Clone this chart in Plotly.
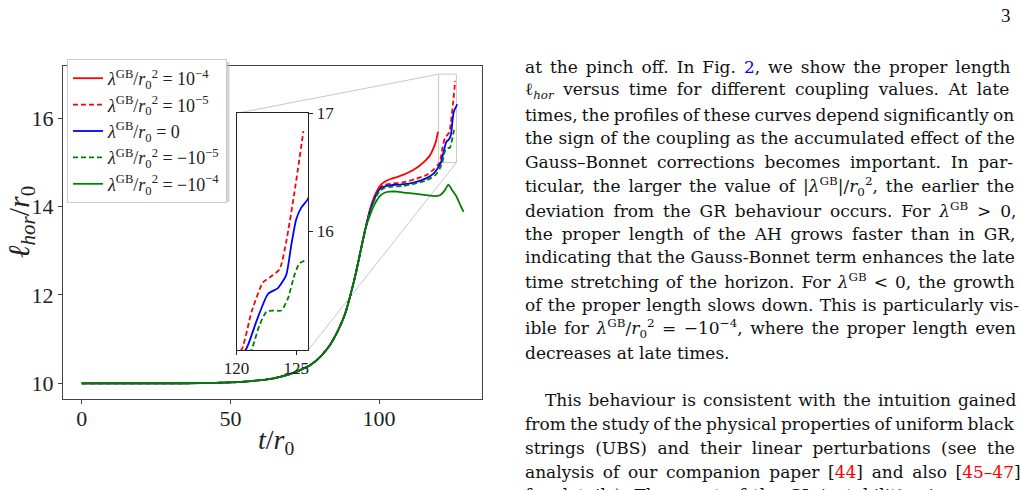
import plotly.graph_objects as go

W, H = 1021, 490

# ---------------- data ----------------
t_base = [0, 10, 20, 30, 40, 50, 55, 60, 65, 70, 73.4, 76.8, 80.2, 83.5, 86.3, 88.6, 90.2, 91.9, 93.6, 95.3]
y_base = [10.0, 10.0, 10.0, 10.0, 10.005, 10.02, 10.04, 10.07, 10.12, 10.21, 10.30, 10.41, 10.60, 10.87, 11.21, 11.58, 11.96, 12.41, 12.94, 13.47]

t_gr = [97.0, 98.7, 100.4, 102.0, 104.0, 107.0, 111.3, 115.8, 118.5, 119.8, 120.84, 121.67, 122.63, 123.46, 124.15, 124.57, 124.98, 125.4, 125.94, 126.2]
y_gr = [13.92, 14.22, 14.41, 14.46, 14.49, 14.50, 14.54, 14.64, 14.76, 14.88, 15.01, 15.24, 15.47, 15.52, 15.63, 15.88, 16.10, 16.20, 16.27, 16.32]

t_p5 = [97.0, 98.7, 100.4, 102.0, 104.0, 108.0, 112.0, 116.0, 118.5, 119.8, 120.43, 121.26, 122.22, 122.77, 123.6, 124.15, 124.84, 125.59]
y_p5 = [13.93, 14.24, 14.44, 14.50, 14.52, 14.55, 14.62, 14.72, 14.85, 14.95, 15.00, 15.32, 15.57, 15.61, 15.68, 15.91, 16.33, 16.85]

t_p4 = [97.0, 98.7, 100.4, 102.0, 103.7, 106.0, 108.0, 110.0, 112.4, 114.0, 115.8, 117.0, 118.0, 119.0, 119.8]
y_p4 = [13.95, 14.28, 14.48, 14.57, 14.62, 14.67, 14.72, 14.78, 14.87, 14.95, 15.06, 15.15, 15.28, 15.45, 15.70]

t_m5 = [97.0, 98.7, 100.4, 102.0, 104.0, 108.0, 112.0, 116.0, 119.0, 120.3, 121.26, 121.9, 122.5, 123.05, 123.74, 124.29, 124.84, 125.26, 125.67]
y_m5 = [13.90, 14.19, 14.37, 14.43, 14.45, 14.47, 14.52, 14.60, 14.72, 14.85, 15.00, 15.20, 15.32, 15.33, 15.33, 15.43, 15.63, 15.73, 15.75]

t_m4 = [97.0, 98.7, 100.4, 102.0, 103.7, 106.0, 108.2, 113.8, 118.3, 120.5, 122.2, 123.3, 124.5, 126.1, 127.2, 128.4]
y_m4 = [13.82, 14.08, 14.25, 14.32, 14.34, 14.34, 14.32, 14.28, 14.24, 14.26, 14.38, 14.50, 14.38, 14.22, 14.05, 13.88]

labels = [
    "<i>λ</i><sup>GB</sup>/<i>r</i><sub>0</sub><sup>2</sup> = 10<sup>−4</sup>",
    "<i>λ</i><sup>GB</sup>/<i>r</i><sub>0</sub><sup>2</sup> = 10<sup>−5</sup>",
    "<i>λ</i><sup>GB</sup>/<i>r</i><sub>0</sub> = 0",
    "<i>λ</i><sup>GB</sup>/<i>r</i><sub>0</sub><sup>2</sup> = −10<sup>−5</sup>",
    "<i>λ</i><sup>GB</sup>/<i>r</i><sub>0</sub><sup>2</sup> = −10<sup>−4</sup>",
]
series = [(t_p4, y_p4), (t_p5, y_p5), (t_gr, y_gr), (t_m5, y_m5), (t_m4, y_m4)]
colors = ["#ff0000", "#ff0000", "#0000ff", "#008000", "#008000"]
dashes = ["solid", "5px,3px", "solid", "5px,3px", "solid"]

main_xticks = [0, 50, 100]
main_yticks = [10, 12, 14, 16]
inset_xticks = [120, 125]
inset_yticks = [16, 17]

page_lines = [
    "at the pinch off. In Fig. <span style='color:#0000ff'>2</span>, we show the proper length",
    "ℓ<sub><i>hor</i></sub> versus time for different coupling values. At late",
    "times, the profiles of these curves depend significantly on",
    "the sign of the coupling as the accumulated effect of the",
    "Gauss–Bonnet corrections becomes important. In par-",
    "ticular, the larger the value of |<i>λ</i><sup>GB</sup>|/<i>r</i><sub>0</sub><sup>2</sup>, the earlier the",
    "deviation from the GR behaviour occurs. For <i>λ</i><sup>GB</sup> &gt; 0,",
    "the proper length of the AH grows faster than in GR,",
    "indicating that the Gauss-Bonnet term enhances the late",
    "time stretching of the horizon. For <i>λ</i><sup>GB</sup> &lt; 0, the growth",
    "of the proper length slows down. This is particularly vis-",
    "ible for <i>λ</i><sup>GB</sup>/<i>r</i><sub>0</sub><sup>2</sup> = −10<sup>−4</sup>, where the proper length even",
    "decreases at late times.",
    "",
    "This behaviour is consistent with the intuition gained",
    "from the study of the physical properties of uniform black",
    "strings (UBS) and their linear perturbations (see the",
    "analysis of our companion paper [<span style='color:#ff0000'>44</span>] and also [<span style='color:#ff0000'>45–47</span>]",
    "for details). The onset of the GL instabilities is con-",
]
# word spacing (px) used to justify each line, and left indent (px)
line_wordspacing = [2.6, 4.1, -1.2, 0.3, 4.4, 2.4, 3.4, 3.4, 0.1, 1.6, 0.8, 2.1, 0, 0, 1.6, -1.2, 5.1, 3.3, 2.2]
line_indent = [0] * 14 + [20, 0, 0, 0, 0]

# ---------------- layout geometry ----------------
FONT = "Liberation Serif"
TFONT = "DejaVu Serif"
main_xdom = [63 / W, 482 / W]
main_ydom = [1 - 399 / H, 1 - 66 / H]
main_xr = [-6.29, 134.6]
main_yr = [9.645, 17.185]
ins_xdom = [236.5 / W, 308.3 / W]
ins_ydom = [1 - 350 / H, 1 - 113.3 / H]
ins_xr = [119.998, 126.0]
ins_yr = [14.995, 17.002]

fig = go.Figure()
for i, ((t, y), lab, c, d) in enumerate(zip(series, labels, colors, dashes)):
    fig.add_trace(go.Scatter(x=t_base + t, y=y_base + y, mode="lines", name=lab, legendgroup=f"g{i}",
                             line=dict(color=c, dash=d, width=1.8, shape="spline", smoothing=0.6),
                             xaxis="x", yaxis="y"))
for (t, y), c, d in zip(series, colors, dashes):
    fig.add_trace(go.Scatter(x=t_base + t, y=y_base + y, mode="lines", showlegend=False,
                             line=dict(color=c, dash=d, width=1.8, shape="spline", smoothing=0.6),
                             xaxis="x2", yaxis="y2"))

axcol = "#444444"
common = dict(showgrid=False, zeroline=False, showline=True, mirror=True, ticks="outside",
              ticklen=4, automargin=False)
fig.update_layout(
    width=W, height=H, margin=dict(l=0, r=0, t=0, b=0, autoexpand=False),
    paper_bgcolor="white", plot_bgcolor="white",
    font=dict(family=FONT, color="#222222"),
    xaxis=dict(domain=main_xdom, range=main_xr, tickvals=main_xticks, tickcolor=axcol,
               linecolor=axcol, linewidth=1.3, tickfont=dict(size=22, family=FONT), anchor="y",
               ticklabelstandoff=-5, **common),
    yaxis=dict(domain=main_ydom, range=main_yr, tickvals=main_yticks, tickcolor=axcol,
               linecolor=axcol, linewidth=1.3, tickfont=dict(size=22, family=FONT), anchor="x", **common),
    xaxis2=dict(domain=ins_xdom, range=ins_xr, tickvals=inset_xticks, tickcolor="#222",
                linecolor="#222", linewidth=1.2, tickfont=dict(size=17, family=FONT), anchor="y2",
                ticklabelstandoff=-2, **common),
    yaxis2=dict(domain=ins_ydom, range=ins_yr, tickvals=inset_yticks, side="right", tickcolor="#222",
                linecolor="#222", linewidth=1.2, tickfont=dict(size=17, family=FONT), anchor="x2", **common),
    legend=dict(x=67 / W, y=1 - 59 / H, xanchor="left", yanchor="top", bgcolor="white",
                bordercolor="#cccccc", borderwidth=1, font=dict(size=18, family=FONT, color="#222"),
                tracegroupgap=0, itemwidth=30),
    showlegend=True,
)

# legend shadow
fig.add_shape(type="rect", xref="paper", yref="paper", x0=70 / W, x1=229.5 / W, y0=1 - 202 / H, y1=1 - 62 / H,
              fillcolor="#b8b8b8", line=dict(width=0), layer="above", opacity=0.6)

# mark_inset: rectangle + connectors (computed from axis ranges/domains)
def px_from_main_x(v):
    return main_xdom[0] + (v - main_xr[0]) / (main_xr[1] - main_xr[0]) * (main_xdom[1] - main_xdom[0])

def py_from_main_y(v):
    return main_ydom[0] + (v - main_yr[0]) / (main_yr[1] - main_yr[0]) * (main_ydom[1] - main_ydom[0])

gray = "#c8c8c8"
rx0, rx1 = px_from_main_x(120), px_from_main_x(126)
ry0, ry1 = py_from_main_y(15), py_from_main_y(17)
fig.add_shape(type="rect", xref="paper", yref="paper", x0=rx0, x1=rx1, y0=ry0, y1=ry1,
              line=dict(color=gray, width=1), layer="below")
fig.add_shape(type="line", xref="paper", yref="paper", x0=ins_xdom[0], y0=ins_ydom[1], x1=rx0, y1=ry1,
              line=dict(color=gray, width=1), layer="below")
fig.add_shape(type="line", xref="paper", yref="paper", x0=ins_xdom[1], y0=ins_ydom[0], x1=rx1, y1=ry0,
              line=dict(color=gray, width=1), layer="below")

# axis titles
fig.add_annotation(x=276 / W, y=1 - 441 / H, xref="paper", yref="paper", showarrow=False,
                   xanchor="center", yanchor="middle",
                   text="<i>t</i>/<i>r</i><sub>0</sub>", font=dict(size=28, family=FONT, color="#222"))
fig.add_annotation(x=21 / W, y=1 - 222 / H, xref="paper", yref="paper", showarrow=False, textangle=-90,
                   xanchor="center", yanchor="middle",
                   text="<i>ℓ</i><sub><i>hor</i></sub>/<i>r</i><sub>0</sub>",
                   font=dict(size=30, family=FONT, color="#222"))

# page text
for i, line in enumerate(page_lines):
    if not line:
        continue
    yc = 67 + 23.8 * i
    fig.add_annotation(x=(523 + line_indent[i]) / W, y=1 - yc / H, xref="paper", yref="paper",
                       showarrow=False, xanchor="left", yanchor="middle", align="left",
                       text=f"<span style='word-spacing:{line_wordspacing[i]}px'>{line}</span>",
                       font=dict(size=17, family=TFONT, color="#111"))
fig.add_annotation(x=1006 / W, y=1 - 15 / H, xref="paper", yref="paper", showarrow=False,
                   xanchor="center", yanchor="middle",
                   text="3", font=dict(size=19, family=FONT, color="#111"))

fig.write_html("out.html")
